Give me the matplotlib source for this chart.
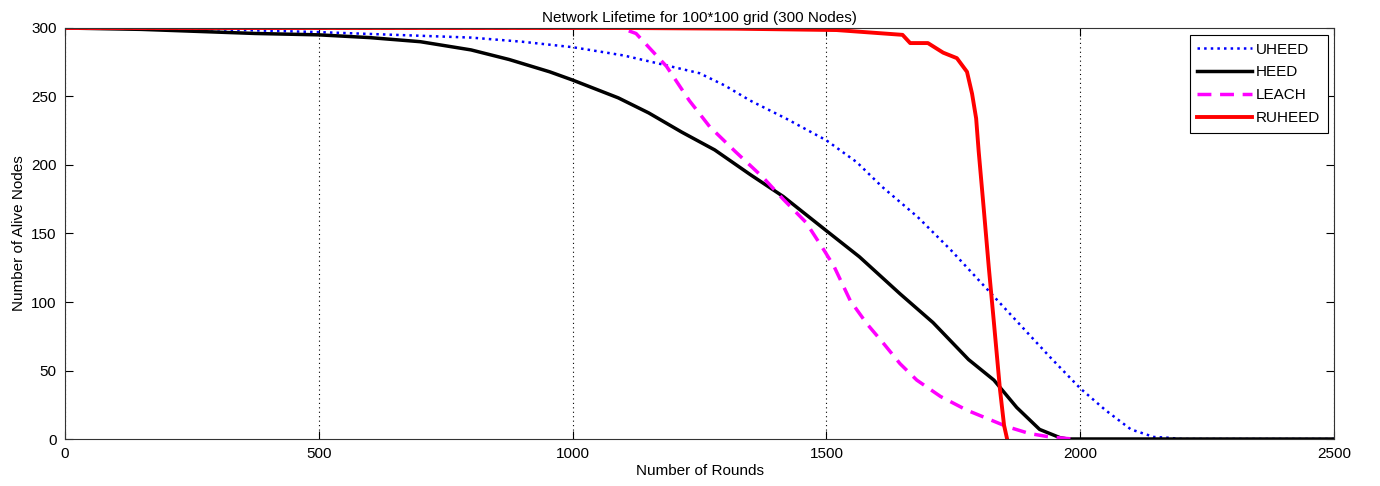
import numpy as np
import matplotlib
matplotlib.use('Agg')
import matplotlib.pyplot as plt

plt.rcParams['font.family'] = ['Liberation Sans', 'DejaVu Sans']

# values
uheed_rounds = [0, 300, 500, 800, 900, 1000, 1100, 1170, 1250, 1300, 1350, 1420,
                1500, 1560, 1610, 1680, 1745, 1840, 1940, 2000, 2050, 2100,
                2145, 2170, 2200, 2500]
uheed_alive = [300, 299, 297, 293, 290, 286, 280, 274, 267, 258, 247, 234,
               218, 202, 184, 162, 138, 100, 60, 37, 21, 7,
               1.5, 1, 0, 0]

heed_rounds = [0, 150, 375, 500, 600, 700, 800, 875, 955, 1000, 1090, 1150,
               1215, 1280, 1350, 1415, 1500, 1565, 1645, 1710, 1780, 1830,
               1875, 1920, 1960, 1975, 2500]
heed_alive = [300, 299, 296, 295, 293, 290, 284, 277, 268, 262, 249, 238,
              224, 211, 193, 177, 152, 133, 106, 85, 58, 43,
              23, 7, 1, 0, 0]

leach_rounds = [0, 1095, 1125, 1145, 1185, 1230, 1270, 1320, 1375, 1415, 1460,
                1495, 1515, 1547, 1580, 1612, 1645, 1678, 1725, 1777, 1856,
                1900, 1940, 1985]
leach_alive = [300, 300, 296, 288, 272, 247, 228, 210, 191, 175, 158,
               138, 126, 101, 84, 70, 55, 43, 31, 21, 9,
               4, 1.5, 0]

ruheed_rounds = [0, 1100, 1320, 1520, 1650, 1665, 1700, 1730, 1757, 1777, 1787,
                 1795, 1800, 1810, 1820, 1830, 1842, 1850, 1856]
ruheed_alive = [300, 300, 299.5, 298.5, 295, 289, 289, 282, 278, 268, 252,
                234, 210, 168, 125, 85, 36, 10, 0]

x_ticks = [0, 500, 1000, 1500, 2000, 2500]
y_ticks = [0, 50, 100, 150, 200, 250, 300]

fig = plt.figure(figsize=(13.8, 4.86), dpi=100)
ax = fig.add_axes([65/1380, 47/486, 1269/1380, 411/486])

ax.plot(uheed_rounds, uheed_alive, color='#0000ff', ls=':', lw=1.8, label='UHEED')
ax.plot(heed_rounds, heed_alive, color='black', ls='-', lw=2.5, label='HEED')
ax.plot(leach_rounds, leach_alive, color='#ff00ff', ls=(0, (4, 2.5)), lw=2.5, label='LEACH')
ax.plot(ruheed_rounds, ruheed_alive, color='#ff0000', ls='-', lw=2.8, label='RUHEED')

ax.set_xlim(0, 2500)
ax.set_ylim(0, 300)
ax.set_xticks(x_ticks)
ax.set_yticks(y_ticks)
ax.xaxis.grid(True, ls=(0, (1, 3)), color='black', lw=0.8)
ax.tick_params(direction='in', length=6, top=True, right=True, labelsize=11,
               colors='black', width=0.8, pad=6)
for s in ax.spines.values():
    s.set_color('#333333')
    s.set_linewidth(0.8)

ax.set_title('Network Lifetime for 100*100 grid (300 Nodes)', fontsize=11, pad=4)
ax.set_xlabel('Number of Rounds', fontsize=11, labelpad=2)
ax.set_ylabel('Number of Alive Nodes', fontsize=11, labelpad=4)

leg = ax.legend(loc='upper right', bbox_to_anchor=(1 - 6/1269, 1 - 7/411),
                borderaxespad=0, fontsize=11, handlelength=3.6, handletextpad=0.25,
                labelspacing=0.58, fancybox=False, framealpha=1, borderpad=0.5)
leg.get_frame().set_edgecolor('black')
leg.get_frame().set_linewidth(0.8)

fig.savefig('out.png', dpi=100)
